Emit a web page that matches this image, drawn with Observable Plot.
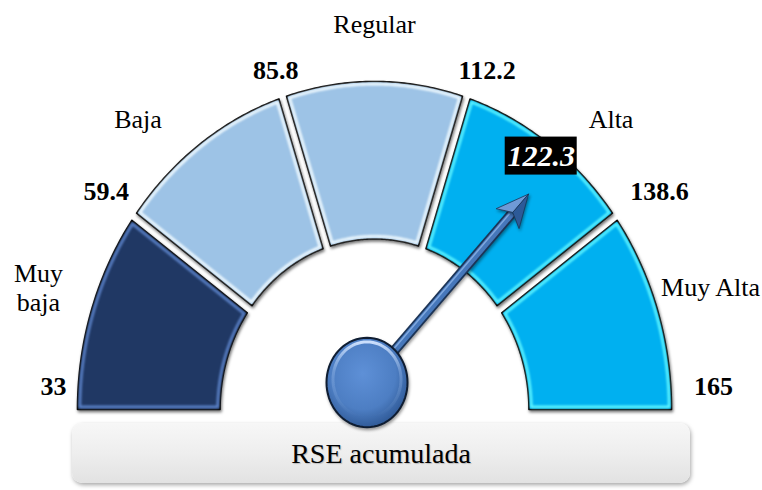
<!DOCTYPE html>
<html>
<head>
<meta charset="utf-8">
<script src="https://cdn.jsdelivr.net/npm/d3@7"></script>
<script src="https://cdn.jsdelivr.net/npm/@observablehq/plot@0.6"></script>
<style>
  html, body { margin: 0; padding: 0; background: #fff; }
  #wrap { position: relative; width: 762px; height: 490px; overflow: hidden; }
  #wrap svg { position: relative; z-index: 1; overflow: visible; background: transparent; }
  #caption {
    position: relative; z-index: 0;
    margin: 3px 0 0 72px; width: 618px; height: 60px;
    border-radius: 10px;
    background: linear-gradient(#f7f7f7 0%, #eeeeee 50%, #e2e2e2 100%);
    box-shadow: 1px 2px 4px rgba(0,0,0,0.35);
    font: 28px "Liberation Serif", "Times New Roman", serif;
    color: #000; text-align: center; line-height: 62px;
    text-shadow: 1px 1px 1px rgba(0,0,0,0.2);
  }
</style>
</head>
<body>
<div id="wrap"></div>
<script>
// ---------------- data ----------------
const categories = ["Muy\nbaja", "Baja", "Regular", "Alta", "Muy Alta"];
const thresholds = [33, 59.4, 85.8, 112.2, 138.6, 165];
const thresholdLabels = ["33", "59.4", "85.8", "112.2", "138.6", "165"];
const value = 122.3;
const valueLabel = "122.3";
const captionText = "RSE acumulada";

// ---------------- styles ----------------
const segColors = ["#203864", "#9dc3e6", "#9dc3e6", "#00b0f0", "#00b0f0"];
const rimColors = ["#5b82c8", "#f2fbff", "#f2fbff", "#5ff6ff", "#5ff6ff"];

// ---------------- layout (pixels) ----------------
const W = 762, H = 420;
const cx = 374, cy = 409, rx = 297, ry = 328;
const R_IN = 0.52, R_OUT = 1;
const HALF_GAP = 4 / rx;
const HUB = {dx: -7.5, dy: 27, r: 40.5};
const NEEDLE_LEN = 248;

const angle = d3.scaleLinear().domain([thresholds[0], thresholds[thresholds.length - 1]]).range([Math.PI, 0]);
// the needle in the original is scaled from 0 to the maximum
const needleAngle = d3.scaleLinear().domain([0, thresholds[thresholds.length - 1]]).range([Math.PI, 0]);

function arcPoints(i, inset) {
  const n = categories.length;
  const a0 = angle(thresholds[i]), a1 = angle(thresholds[i + 1]);
  const o0 = (i === 0 ? 0 : HALF_GAP) + inset;
  const o1 = (i === n - 1 ? 0 : HALF_GAP) + inset;
  const ro = R_OUT - inset, ri = R_IN + inset;
  const pts = [], N = 60;
  const s0 = a0 - Math.asin(o0 / ro), s1 = a1 + Math.asin(o1 / ro);
  for (let k = 0; k <= N; k++) { const t = s0 + (s1 - s0) * k / N; pts.push({x: ro * Math.cos(t), y: ro * Math.sin(t)}); }
  const u0 = a1 + Math.asin(o1 / ri), u1 = a0 - Math.asin(o0 / ri);
  for (let k = 0; k <= N; k++) { const t = u0 + (u1 - u0) * k / N; pts.push({x: ri * Math.cos(t), y: ri * Math.sin(t)}); }
  return pts;
}

// threshold labels
const thrData = thresholds.map((t, i) => {
  const a = angle(t), hw = 6 * thresholdLabels[i].length;
  return {label: thresholdLabels[i], x: Math.cos(a) * (315 + hw) / rx, y: (Math.sin(a) * 332 + 23) / ry};
});
// category labels at segment mid-angles
const catData = categories.map((c, i) => {
  const a = angle((thresholds[i] + thresholds[i + 1]) / 2);
  const k = Math.abs(Math.sin(2 * a));
  return {label: c, x: Math.cos(a) * (274 + 135 * k) / rx, y: (Math.sin(a) * (373 - 31 * k) + 13) / ry};
});

// needle geometry
const phi = needleAngle(value);
let ux = Math.cos(phi) * rx, uy = Math.sin(phi) * ry;
const ul = Math.hypot(ux, uy); ux /= ul; uy /= ul;
const nx = -uy, ny = ux;
const P = (along, perp) => ({x: (HUB.dx + ux * along + nx * perp) / rx, y: (HUB.dy + uy * along + ny * perp) / ry});
const shaft = [{a: P(30, 0), b: P(NEEDLE_LEN - 25, 0)}];
const shaftHi = [{a: P(30, 1.6), b: P(NEEDLE_LEN - 27, 1.6)}];
const headL = [P(NEEDLE_LEN, 0), P(NEEDLE_LEN - 32, 15), P(NEEDLE_LEN - 24, 0)];
const headR = [P(NEEDLE_LEN, 0), P(NEEDLE_LEN - 24, 0), P(NEEDLE_LEN - 32, -15)];
const ellipse = (scale, lift) => d3.range(0, 73).map(k => {
  const t = k / 72 * 2 * Math.PI;
  return {x: HUB.dx / rx + (HUB.r * scale / rx) * Math.cos(t), y: (HUB.dy + lift) / ry + (HUB.r * scale / rx) * Math.sin(t)};
});
const hubPts = ellipse(1, 0);
const hubHiPts = ellipse(0.84, 3);

// value label at the mid-angle of the segment that contains the value
const segIdx = Math.max(0, Math.min(categories.length - 1, d3.bisectRight(thresholds, value) - 1));
const va = angle((thresholds[segIdx] + thresholds[segIdx + 1]) / 2);
const vPos = {x: 0.955 * Math.cos(va), y: 0.955 * Math.sin(va)};
const vBox = [{x1: vPos.x - 36 / rx, x2: vPos.x + 36 / rx, y1: vPos.y - 19 / ry, y2: vPos.y + 19 / ry}];

const font = "Liberation Serif";
const segShadow = "drop-shadow(1.5px 2.5px 1.6px rgba(0,0,0,0.55))";
const needleShadow = "drop-shadow(1.5px 2px 1.5px rgba(0,0,0,0.4))";

const marks = [];
categories.forEach((c, i) => {
  marks.push(Plot.line(arcPoints(i, 0), {x: "x", y: "y", fill: segColors[i], stroke: "#0b0b0b", strokeWidth: 1.6, curve: "linear-closed", imageFilter: segShadow}));
});
categories.forEach((c, i) => {
  marks.push(Plot.line(arcPoints(i, 2.4 / rx), {x: "x", y: "y", fill: "none", stroke: rimColors[i], strokeWidth: 2.6, curve: "linear-closed", imageFilter: "blur(0.8px)"}));
});
marks.push(
  Plot.text(thrData, {x: "x", y: "y", text: "label", dx: 6, fontFamily: font, fontSize: 26, fontWeight: "bold", fill: "#000"}),
  Plot.text(catData, {x: "x", y: "y", text: "label", fontFamily: font, fontSize: 26, lineHeight: 1.13, fill: "#000"}),
  Plot.rect(vBox, {x1: "x1", x2: "x2", y1: "y1", y2: "y2", fill: "#000"}),
  Plot.text([valueLabel], {x: () => vPos.x, y: () => vPos.y, text: d => d, fontFamily: font, fontSize: 30, fontWeight: "bold", fontStyle: "italic", fill: "#fff"}),
  Plot.link(shaft, {x1: d => d.a.x, y1: d => d.a.y, x2: d => d.b.x, y2: d => d.b.y, stroke: "#1c3456", strokeWidth: 10, imageFilter: needleShadow}),
  Plot.link(shaft, {x1: d => d.a.x, y1: d => d.a.y, x2: d => d.b.x, y2: d => d.b.y, stroke: "#4677ba", strokeWidth: 6.5}),
  Plot.link(shaftHi, {x1: d => d.a.x, y1: d => d.a.y, x2: d => d.b.x, y2: d => d.b.y, stroke: "#80a9df", strokeWidth: 1.5}),
  Plot.line(headL, {x: "x", y: "y", fill: "#6f9ad6", stroke: "#1c3456", strokeWidth: 0.8, curve: "linear-closed", imageFilter: needleShadow}),
  Plot.line(headR, {x: "x", y: "y", fill: "#2d5a98", stroke: "#1c3456", strokeWidth: 0.8, curve: "linear-closed", imageFilter: needleShadow}),
  Plot.line(hubPts, {x: "x", y: "y", fill: "url(#hubGrad)", stroke: "#0f1d32", strokeWidth: 2, curve: "linear-closed", imageFilter: needleShadow}),
  Plot.line(hubHiPts, {x: "x", y: "y", fill: "none", stroke: "url(#hubHi)", strokeWidth: 3, curve: "linear-closed", imageFilter: "blur(0.6px)"})
);

const svg = Plot.plot({
  width: W, height: H,
  marginTop: 0, marginRight: 0, marginBottom: 0, marginLeft: 0,
  x: {domain: [-cx / rx, (W - cx) / rx], axis: null},
  y: {domain: [-(H - cy) / ry, cy / ry], axis: null},
  marks
});
svg.style.background = "transparent";
svg.style.overflow = "visible";

// gradient definitions
const defs = d3.select(svg).insert("defs", ":first-child");
const rg = defs.append("radialGradient").attr("id", "hubGrad").attr("cx", "45%").attr("cy", "40%").attr("r", "62%");
[["0%", "#5e90d7", 1], ["65%", "#4d7ec3", 1], ["100%", "#2e5895", 1]].forEach(([o, c, a]) =>
  rg.append("stop").attr("offset", o).attr("stop-color", c).attr("stop-opacity", a));
const lg = defs.append("linearGradient").attr("id", "hubHi").attr("x1", 0).attr("y1", 0).attr("x2", 0).attr("y2", 1);
[["0%", "#d2e4ff", 0.95], ["40%", "#a5c4ef", 0.35], ["100%", "#a5c4ef", 0]].forEach(([o, c, a]) =>
  lg.append("stop").attr("offset", o).attr("stop-color", c).attr("stop-opacity", a));

const wrap = document.getElementById("wrap");
wrap.appendChild(svg);
const cap = document.createElement("div");
cap.id = "caption";
cap.textContent = captionText;
wrap.appendChild(cap);
</script>
</body>
</html>
